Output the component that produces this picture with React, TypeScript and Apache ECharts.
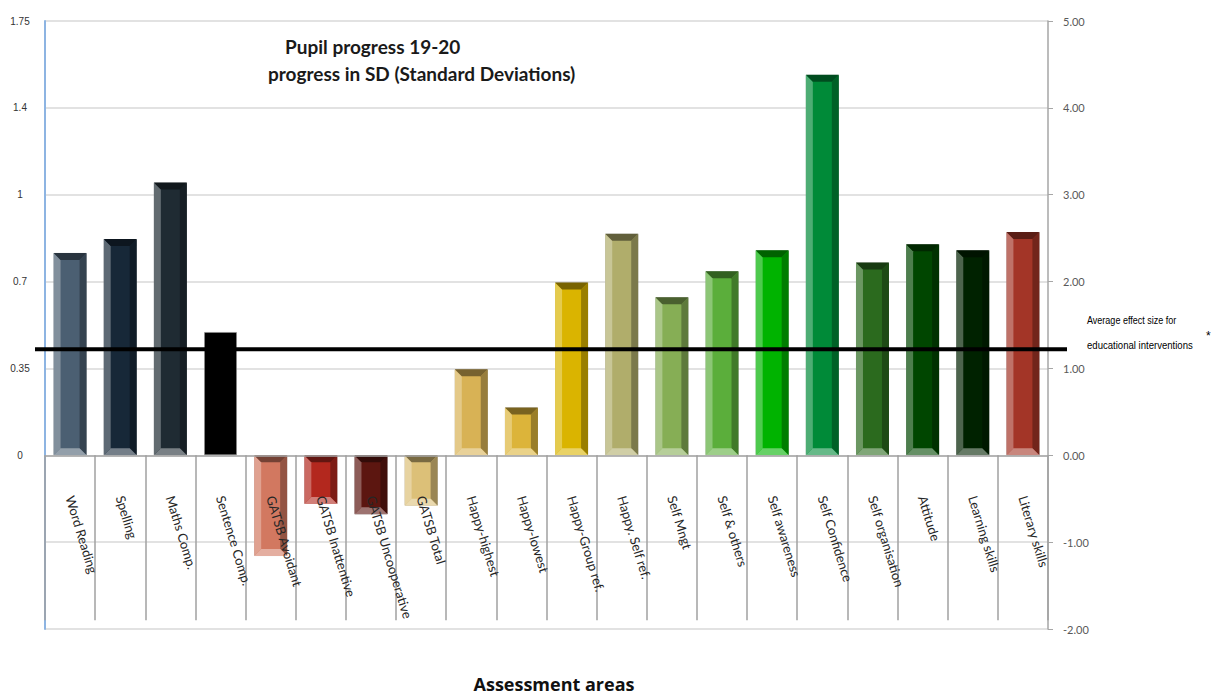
import React, { useEffect, useRef } from "react";
import * as echarts from "echarts";

const categories = [
  "Word Reading", "Spelling", "Maths Comp.", "Sentence Comp.", "GATSB Avoidant",
  "GATSB Inattentive", "GATSB Uncooperative", "GATSB Total", "Happy-highest", "Happy-lowest",
  "Happy-Group ref.", "Happy. Self ref.", "Self Mngt", "Self & others", "Self awareness",
  "Self Confidence", "Self organisation", "Attitude", "Learning skills", "Literary skills",
];
const progressValues = [
  2.33, 2.49, 3.14, 1.42, -1.16,
  -0.56, -0.68, -0.58, 0.99, 0.55,
  1.99, 2.55, 1.82, 2.12, 2.36,
  4.38, 2.22, 2.43, 2.36, 2.57,
];
const barColors = [
  "#4b5f72", "#172838", "#1f2b33", "#000000", "#d27860",
  "#b3281e", "#5c1610", "#dcc078", "#d8b255", "#dcb43a",
  "#dab400", "#b0ad6b", "#86ae55", "#5bae3b", "#00b300",
  "#008a38", "#2b6a1e", "#004600", "#002200", "#a33527",
];
const leftTickLabels = ["0", "0.35", "0.7", "1", "1.4", "1.75"];
const leftStep = 0.35;
const averageEffect = 1.22;
const titleLines = ["Pupil progress 19-20", "progress in SD (Standard Deviations)"];
const noteLines = ["Average effect size for", "educational interventions"];
const xAxisName = "Assessment areas";

const BAR_W = 33;
const BEVEL = 7;

function shade(hex: string, f: number): string {
  const n = parseInt(hex.slice(1), 16);
  let r = (n >> 16) & 255, g = (n >> 8) & 255, b = n & 255;
  const t = f > 0 ? 255 : 0;
  const p = Math.abs(f);
  r = Math.round(r + (t - r) * p);
  g = Math.round(g + (t - g) * p);
  b = Math.round(b + (t - b) * p);
  return "rgb(" + r + "," + g + "," + b + ")";
}

export default function App() {
  const ref = useRef<HTMLDivElement>(null);
  useEffect(() => {
    if (!ref.current) return;
    const chart = echarts.init(ref.current, null, { renderer: "svg" });
    const renderBevel = (params: any, api: any) => {
      const i = api.value(0);
      const v = api.value(1);
      const base = barColors[i];
      if (base === "#000000") return { type: "group", children: [] };
      const p0 = api.coord([i, 0]);
      const p1 = api.coord([i, v]);
      const xl = p0[0] - BAR_W / 2;
      const xr = p0[0] + BAR_W / 2;
      const top = Math.min(p0[1], p1[1]);
      const bot = Math.max(p0[1], p1[1]);
      const b = Math.min(BEVEL, (bot - top) / 2);
      const poly = (pts: number[][], fill: string) => ({
        type: "polygon", shape: { points: pts }, style: { fill, stroke: null },
      });
      return {
        type: "group",
        children: [
          poly([[xl, top], [xl + b, top + b], [xl + b, bot - b], [xl, bot]], shade(base, 0.3)),
          poly([[xr, top], [xr - b, top + b], [xr - b, bot - b], [xr, bot]], shade(base, -0.3)),
          poly([[xl, bot], [xr, bot], [xr - b, bot - b], [xl + b, bot - b]], shade(base, 0.4)),
          poly([[xl, top], [xr, top], [xr - b, top + b], [xl + b, top + b]], shade(base, -0.45)),
        ],
      };
    };
    const option: any = {
      animation: false,
      backgroundColor: "#ffffff",
      title: [
        { text: titleLines[0], left: 285, top: 37, padding: 0,
          textStyle: { fontFamily: "Lato", fontWeight: "bold", fontSize: 19, color: "#1a1a1a" } },
        { text: titleLines[1], left: 268, top: 64, padding: 0,
          textStyle: { fontFamily: "Lato", fontWeight: "bold", fontSize: 19, color: "#1a1a1a" } },
      ],
      grid: { left: 45, right: 165, top: 21, bottom: 67, containLabel: false, outerBoundsMode: "none" },
      xAxis: {
        type: "category",
        data: categories,
        z: 5,
        axisLine: { onZero: true, onZeroAxisIndex: 1, lineStyle: { color: "#a6a6a6", width: 1.5 } },
        axisTick: { show: true, interval: 0, length: 165, alignWithLabel: false,
          lineStyle: { color: "#a0a0a0", width: 1.5 } },
        axisLabel: { interval: 0, rotate: -73, margin: -133, fontFamily: "Lato", fontSize: 13, color: "#262626",
          hideOverlap: false },
        splitLine: { show: false },
      },
      yAxis: [
        {
          type: "value", position: "left", min: -2 * leftStep, max: 5 * leftStep, interval: leftStep,
          axisLine: { show: true, lineStyle: { color: "#8db4e2", width: 2 } },
          axisTick: { show: false },
          splitLine: { show: false },
          axisLabel: {
            align: "center", margin: 25, fontFamily: "Liberation Sans", fontSize: 10, color: "#333333",
            formatter: (v: number) => {
              const k = Math.round(v / leftStep);
              return k < 0 ? "" : leftTickLabels[k];
            },
          },
        },
        {
          type: "value", position: "right", min: -2, max: 5, interval: 1,
          axisLine: { show: true, lineStyle: { color: "#a6a6a6", width: 1.5 } },
          axisTick: { show: true, length: 5, lineStyle: { color: "#a6a6a6" } },
          splitLine: { show: true, lineStyle: { color: "#d9d9d9", width: 1.5 } },
          axisLabel: { margin: 15, fontFamily: "Lato", fontSize: 11, color: "#595959",
            formatter: (v: number) => v.toFixed(2) },
        },
      ],
      series: [
        {
          type: "bar",
          yAxisIndex: 1,
          barWidth: BAR_W,
          z: 2,
          data: progressValues.map((v, i) => ({
            value: v,
            itemStyle: { color: barColors[i], borderColor: "rgba(140,140,140,0.6)", borderWidth: 1 },
          })),
        },
        {
          type: "custom",
          yAxisIndex: 1,
          z: 3,
          silent: true,
          renderItem: renderBevel,
          encode: { x: 0, y: 1 },
          data: progressValues.map((v, i) => [i, v]),
        },
      ],
    };
    chart.setOption(option);
    const yAvg = chart.convertToPixel({ yAxisIndex: 1 }, averageEffect) as number;
    chart.setOption({
      graphic: [
        { type: "line", z: 10, shape: { x1: 35, y1: yAvg, x2: 1067, y2: yAvg },
          style: { stroke: "#000000", lineWidth: 4 } },
        { type: "text", x: 1087, y: yAvg - 29, scaleX: 0.82, style: { text: noteLines[0],
          fontFamily: "Liberation Sans", fontSize: 11, fill: "#000000", verticalAlign: "middle" } },
        { type: "text", x: 1087, y: yAvg - 4, scaleX: 0.87, style: { text: noteLines[1],
          fontFamily: "Liberation Sans", fontSize: 11, fill: "#000000", verticalAlign: "middle" } },
        { type: "text", x: 1206, y: yAvg - 13, style: { text: "*", fontFamily: "Liberation Sans",
          fontSize: 12, fill: "#000000", verticalAlign: "middle" } },
        { type: "text", x: 554, y: 684, style: { text: xAxisName, fontFamily: "Open Sans", fontWeight: "bold",
          fontSize: 18, fill: "#111111", align: "center", verticalAlign: "middle" } },
      ],
    });
    return () => chart.dispose();
  }, []);
  return <div ref={ref} style={{ position: "absolute", left: 0, top: 0, width: 1213, height: 696 }} />;
}
